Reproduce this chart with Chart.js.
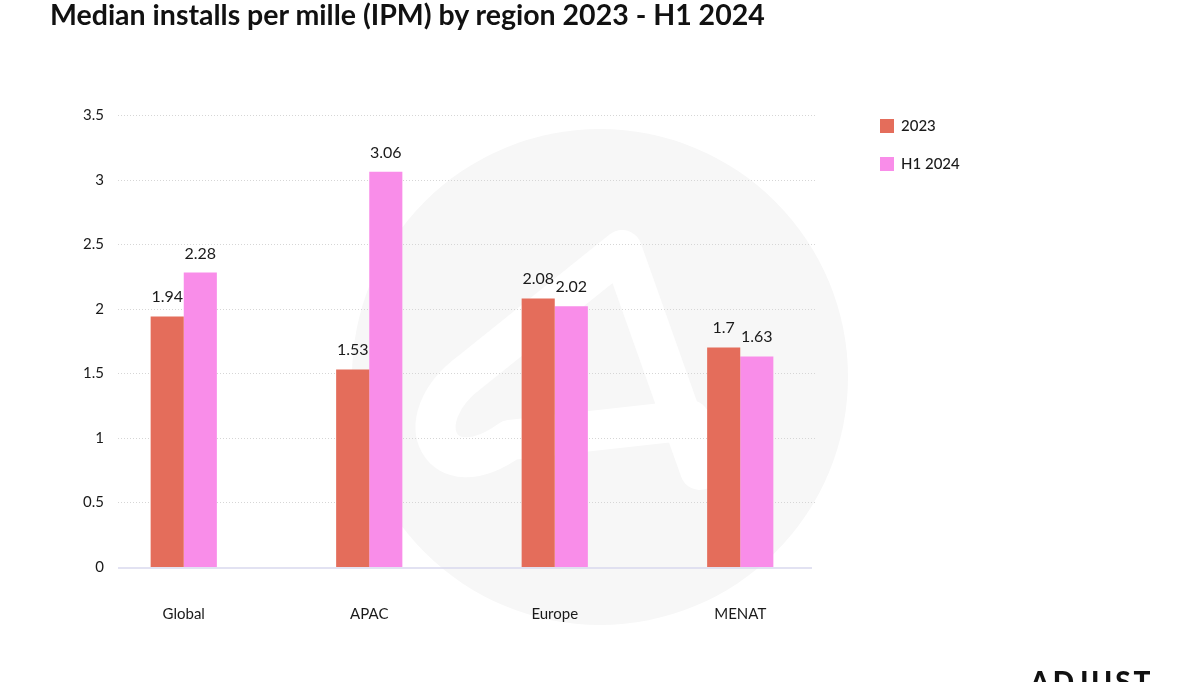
<!DOCTYPE html>
<html>
<head>
<meta charset="utf-8">
<script src="https://cdn.jsdelivr.net/npm/chart.js@4.4.1/dist/chart.umd.min.js"></script>
<style>
  html, body { margin: 0; padding: 0; background: #fff; }
  #wrap { position: relative; width: 1200px; height: 682px; overflow: hidden; }
  #titulo { position: absolute; left: 50px; top: 1px; font: 700 28.5px Lato, sans-serif; line-height: 27px; color: #111; white-space: nowrap; }
  #logo { position: absolute; left: 1030px; top: 664px; font: 900 28px Lato, sans-serif; letter-spacing: 3px; color: #111; }
</style>
</head>
<body>
<div id="wrap">
  <canvas id="grafico" width="1200" height="682"></canvas>
  <div id="titulo">Median installs per mille (IPM) by region 2023 - H1 2024</div>
  <div id="logo">ADJUST</div>
</div>
<script>
// datos
const categorias = ['Global', 'APAC', 'Europe', 'MENAT'];
const series = ['2023', 'H1 2024'];
const valores2023 = [1.94, 1.53, 2.08, 1.7];
const valoresH1 = [2.28, 3.06, 2.02, 1.63];
const ticksY = [0, 0.5, 1, 1.5, 2, 2.5, 3, 3.5];
const colores = ['#e46d5b', '#f98de9'];

const fuente = 'Lato, sans-serif';

// marca de agua: circulo gris con la "A" blanca (antes de los ejes)
const marca = {
  id: 'marca',
  beforeDraw(chart) {
    const { ctx } = chart;
    ctx.save();
    ctx.fillStyle = '#f7f7f7';
    ctx.beginPath();
    ctx.arc(600, 377, 248, 0, Math.PI * 2);
    ctx.fill();

    ctx.strokeStyle = '#ffffff';
    ctx.lineWidth = 40;
    ctx.lineJoin = 'round';
    ctx.lineCap = 'round';
    ctx.beginPath();
    ctx.moveTo(700, 470);
    ctx.lineTo(622, 250);
    ctx.lineTo(470, 372);
    ctx.bezierCurveTo(405, 420, 440, 490, 510, 440);
    ctx.lineTo(690, 420);
    ctx.stroke();
    ctx.restore();
  }
};

// rejilla punteada y etiquetas del eje Y
const rejilla = {
  id: 'rejilla',
  beforeDatasetsDraw(chart) {
    const { ctx, scales: { y } } = chart;
    ctx.save();
    ticksY.forEach(v => {
      const py = Math.round(y.getPixelForValue(v)) + 0.5;
      if (v === 0) {
        ctx.setLineDash([]);
        ctx.strokeStyle = '#d9d9ee';
        ctx.lineWidth = 1.5;
        ctx.beginPath();
        ctx.moveTo(118, py + 0.5);
        ctx.lineTo(812, py + 0.5);
        ctx.stroke();
      } else {
        ctx.setLineDash([1, 2]);
        ctx.strokeStyle = '#d6d6d6';
        ctx.lineWidth = 1;
        ctx.beginPath();
        ctx.moveTo(118, py);
        ctx.lineTo(815, py);
        ctx.stroke();
      }
      ctx.setLineDash([]);
      ctx.fillStyle = '#1a1a1a';
      ctx.font = '15px ' + fuente;
      ctx.textAlign = 'right';
      ctx.textBaseline = 'middle';
      ctx.fillText(String(v), 104, py);
    });
    ctx.restore();
  }
};

// valores encima de cada barra + leyenda a la derecha
const etiquetas = {
  id: 'etiquetas',
  afterDatasetsDraw(chart) {
    const { ctx } = chart;
    ctx.save();
    ctx.font = '16px ' + fuente;
    ctx.fillStyle = '#1a1a1a';
    ctx.textAlign = 'center';
    ctx.textBaseline = 'alphabetic';
    chart.data.datasets.forEach((ds, i) => {
      chart.getDatasetMeta(i).data.forEach((bar, j) => {
        ctx.fillText(String(ds.data[j]), bar.x, bar.y - 14);
      });
    });

    chart.data.datasets.forEach((ds, i) => {
      const cy = 126 + i * 38;
      ctx.fillStyle = ds.backgroundColor;
      ctx.fillRect(880, cy - 7, 14, 14);
      ctx.fillStyle = '#1a1a1a';
      ctx.textAlign = 'left';
      ctx.textBaseline = 'middle';
      ctx.font = '500 15px ' + fuente;
      ctx.fillText(ds.label, 901, cy);
    });
    ctx.restore();
  }
};

new Chart(document.getElementById('grafico'), {
  type: 'bar',
  data: {
    labels: categorias,
    datasets: [
      { label: series[0], data: valores2023, backgroundColor: colores[0] },
      { label: series[1], data: valoresH1, backgroundColor: colores[1] }
    ]
  },
  options: {
    responsive: false,
    animation: false,
    devicePixelRatio: 1,
    layout: { padding: { left: 91, right: 367, top: 115, bottom: 21 } },
    datasets: { bar: { categoryPercentage: 0.357, barPercentage: 1, borderWidth: 0 } },
    plugins: { legend: { display: false }, tooltip: { enabled: false } },
    scales: {
      x: {
        grid: { display: false, drawTicks: false },
        border: { display: false },
        ticks: { color: '#1a1a1a', font: { family: fuente, size: 15 }, padding: 38 }
      },
      y: { display: false, min: 0, max: 3.5, ticks: { stepSize: 0.5 } }
    }
  },
  plugins: [marca, rejilla, etiquetas]
});
</script>
</body>
</html>
